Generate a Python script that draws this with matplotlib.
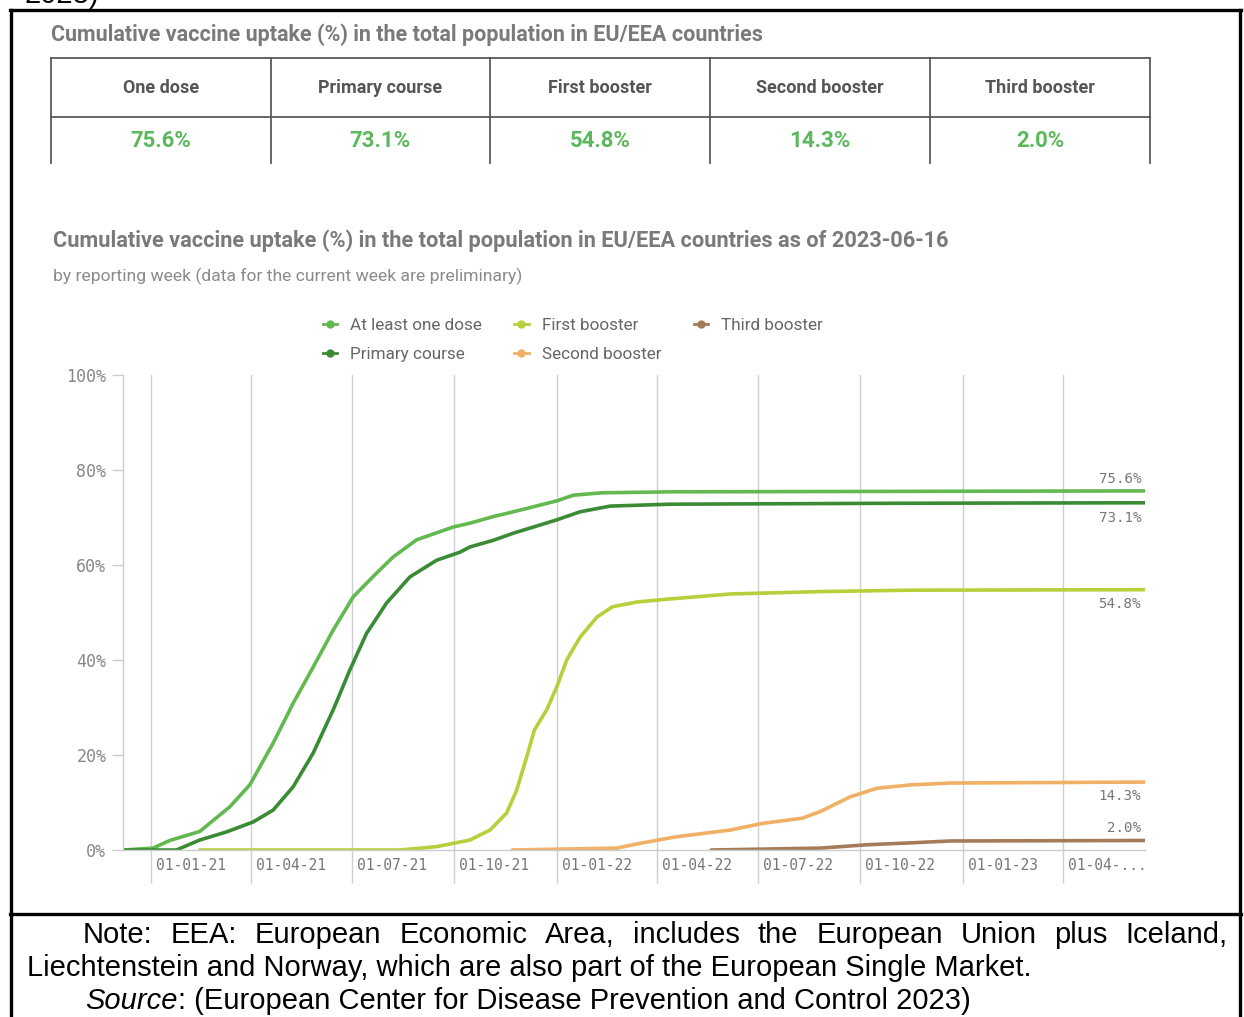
import matplotlib.pyplot as plt
import matplotlib.transforms as mtransforms
from matplotlib.lines import Line2D
import pandas as pd

W, H = 1244, 1017

# --- data ---
table_headers = ["One dose", "Primary course", "First booster", "Second booster", "Third booster"]
table_values = ["75.6%", "73.1%", "54.8%", "14.3%", "2.0%"]

one_dose_dates = ["2020-12-07", "2021-01-03", "2021-01-18", "2021-02-14", "2021-03-13", "2021-03-31",
                  "2021-04-21", "2021-05-09", "2021-05-27", "2021-06-14", "2021-07-02", "2021-07-23",
                  "2021-08-07", "2021-08-28", "2021-09-30", "2021-10-15", "2021-11-05", "2021-11-23",
                  "2021-12-05", "2022-01-01", "2022-01-16", "2022-02-11", "2022-04-13", "2022-11-06",
                  "2023-06-14"]
one_dose_vals = [0, 0.4, 2.0, 3.9, 9.1, 13.7, 22.5, 30.9, 38.5, 46.3, 53.3, 58.3,
                 61.7, 65.3, 68.0, 68.8, 70.2, 71.2, 71.9, 73.5, 74.7, 75.2, 75.4, 75.5,
                 75.6]

primary_dates = ["2020-12-07", "2021-01-24", "2021-02-14", "2021-03-10", "2021-04-03", "2021-04-21",
                 "2021-05-09", "2021-05-27", "2021-06-14", "2021-06-29", "2021-07-14", "2021-08-01",
                 "2021-08-22", "2021-09-15", "2021-10-06", "2021-10-15", "2021-11-05", "2021-11-23",
                 "2022-01-01", "2022-01-22", "2022-02-18", "2022-04-13", "2022-11-06", "2023-06-14"]
primary_vals = [0, 0, 2.1, 3.8, 5.9, 8.4, 13.3, 20.4, 29.5, 37.9, 45.6, 52.0,
                57.5, 61.0, 62.7, 63.8, 65.2, 66.7, 69.5, 71.2, 72.4, 72.8, 73.0, 73.1]

first_dates = ["2021-02-14", "2021-08-13", "2021-09-15", "2021-10-15", "2021-11-02", "2021-11-17",
               "2021-11-26", "2021-12-05", "2021-12-12", "2021-12-23", "2022-01-01", "2022-01-10",
               "2022-01-22", "2022-02-06", "2022-02-20", "2022-03-14", "2022-04-10", "2022-06-06",
               "2022-08-26", "2022-11-15", "2023-06-14"]
first_vals = [0, 0, 0.7, 2.1, 4.2, 7.8, 12.6, 19.6, 25.3, 29.5, 34.3, 40.0,
              44.8, 49.0, 51.2, 52.2, 52.8, 53.9, 54.4, 54.7, 54.8]

second_dates = ["2021-11-22", "2022-02-24", "2022-03-19", "2022-04-19", "2022-06-06", "2022-07-05",
                "2022-08-10", "2022-08-26", "2022-09-22", "2022-10-16", "2022-11-15", "2022-12-21",
                "2023-06-14"]
second_vals = [0, 0.4, 1.5, 2.8, 4.2, 5.6, 6.7, 8.1, 11.2, 13.0, 13.7, 14.1, 14.3]

third_dates = ["2022-05-20", "2022-08-26", "2022-10-07", "2022-11-15", "2022-12-21", "2023-06-14"]
third_vals = [0, 0.4, 1.1, 1.5, 1.9, 2.0]

series_names = ["At least one dose", "Primary course", "First booster", "Second booster", "Third booster"]
series_dates = [one_dose_dates, primary_dates, first_dates, second_dates, third_dates]
series_vals = [one_dose_vals, primary_vals, first_vals, second_vals, third_vals]

tick_dates = ["2021-01-01", "2021-04-01", "2021-07-01", "2021-10-01", "2022-01-01",
              "2022-04-01", "2022-07-01", "2022-10-01", "2023-01-01", "2023-04-01"]
tick_labels = ["01-01-21", "01-04-21", "01-07-21", "01-10-21", "01-01-22",
               "01-04-22", "01-07-22", "01-10-22", "01-01-23", "01-04-..."]
y_ticks = [0, 20, 40, 60, 80, 100]

# --- styles ---
colors = ["#62b94f", "#3b8b34", "#b5d03a", "#f0b065", "#a57b5a"]
end_offsets = [12, -15, -14, -14, 13]  # px above (+) / below (-) the line end
value_green = "#5cb85c"
mono = "DejaVu Sans Mono"
sans = "Roboto"

fig = plt.figure(figsize=(W / 100, H / 100), dpi=100)

# background axes in pixel coordinates for frame, table and notes
bg = fig.add_axes([0, 0, 1, 1], zorder=-1)
bg.set_xlim(0, W)
bg.set_ylim(H, 0)
bg.axis("off")

# outer frame
frame_kw = dict(color="black", lw=2.4, solid_capstyle="projecting")
bg.plot([10, 1241], [9.5, 9.5], **frame_kw)
bg.plot([10, 1241], [914, 914], **frame_kw)
bg.plot([11, 11], [9.5, 1017], **frame_kw)
bg.plot([1240, 1240], [9.5, 1017], **frame_kw)
bg.text(25, 3, "2023)", fontsize=21, family="Liberation Sans", va="baseline")

# summary table
bg.text(51, 35, "Cumulative vaccine uptake (%) in the total population in EU/EEA countries",
        fontsize=15.5, fontweight="bold", color="#7a7a7a", family=sans, va="center")
col_x = [51, 271, 490, 710, 930, 1150]
line_kw = dict(color="#5a5a5a", lw=1.3)
bg.plot([col_x[0], col_x[-1]], [58, 58], **line_kw)
bg.plot([col_x[0], col_x[-1]], [117, 117], **line_kw)
for x in col_x:
    bg.plot([x, x], [58, 163], **line_kw)
for i, (head, val) in enumerate(zip(table_headers, table_values)):
    cx = (col_x[i] + col_x[i + 1]) / 2
    bg.text(cx, 88, head, ha="center", va="center", fontsize=13, fontweight="bold",
            color="#555555", family=sans)
    bg.text(cx, 141, val, ha="center", va="center", fontsize=16, fontweight="bold",
            color=value_green, family=sans)

# chart titles
bg.text(53, 241, "Cumulative vaccine uptake (%) in the total population in EU/EEA countries as of 2023-06-16",
        fontsize=15.7, fontweight="bold", color="#7a7a7a", family=sans, va="center")
bg.text(53, 276, "by reporting week (data for the current week are preliminary)",
        fontsize=12.6, color="#8a8a8a", family=sans, va="center")

# --- line chart ---
ax = fig.add_axes([123 / W, 1 - 850 / H, (1145 - 123) / W, 475 / H])
for name, d, v, c in zip(series_names, series_dates, series_vals, colors):
    ax.plot(pd.to_datetime(d), v, color=c, lw=2.6, solid_capstyle="round",
            solid_joinstyle="round", label=name)

ax.set_xlim(pd.Timestamp(one_dose_dates[0]), pd.Timestamp(one_dose_dates[-1]))
ax.set_ylim(0, 100)

ticks = pd.to_datetime(tick_dates)
ax.set_xticks(ticks)
ax.set_xticklabels([])
ax.grid(axis="x", color="#cfcfcf", lw=1)
ax.tick_params(axis="x", length=24, color="#cfcfcf", width=1)
lab_trans = mtransforms.offset_copy(ax.get_xaxis_transform(), fig=fig, x=5, y=-15, units="dots")
for t, lab in zip(ticks, tick_labels):
    ax.text(t, 0, lab, transform=lab_trans, ha="left", va="center", family=mono,
            fontsize=10.5, color="#777777")

ax.set_yticks(y_ticks)
ax.set_yticklabels([f"{v}%" for v in y_ticks], family=mono, fontsize=12, color="#888888")
ax.tick_params(axis="y", length=8, color="#cccccc", width=1, pad=4)

for s in ["top", "right"]:
    ax.spines[s].set_visible(False)
for s in ["left", "bottom"]:
    ax.spines[s].set_color("#cccccc")
    ax.spines[s].set_linewidth(1)

# end-of-line labels
for d, v, off in zip(series_dates, series_vals, end_offsets):
    tr = mtransforms.offset_copy(ax.transData, fig=fig, x=-4, y=off, units="dots")
    ax.text(pd.Timestamp(d[-1]), v[-1], f"{v[-1]:.1f}%", transform=tr, ha="right", va="center",
            family=mono, fontsize=10.2, color="#777777")

handles = [Line2D([], [], color=c, lw=2, marker="o", markersize=5) for c in colors]
fig.legend(handles, series_names, ncol=3, loc="upper left", bbox_to_anchor=(314 / W, 1 - 309 / H),
           frameon=False, borderpad=0, handlelength=0.85, handletextpad=0.75, columnspacing=1.9,
           labelspacing=0.86, prop={"family": sans, "size": 12.3}, labelcolor="#666666")

# --- note below the frame ---
note_kw = dict(fontsize=21, family="Liberation Sans", va="center", color="black")
fig.canvas.draw()
renderer = fig.canvas.get_renderer()

words = "Note: EEA: European Economic Area, includes the European Union plus Iceland,".split()
texts = [bg.text(0, 935, w, **note_kw) for w in words]
widths = [t.get_window_extent(renderer).width for t in texts]
gap = (1228 - 83 - sum(widths)) / (len(words) - 1)
x = 83
for t, w in zip(texts, widths):
    t.set_x(x)
    x += w + gap

bg.text(27, 968, "Liechtenstein and Norway, which are also part of the European Single Market.", **note_kw)
src = bg.text(85, 1001, "Source", style="italic", **note_kw)
src_w = src.get_window_extent(renderer).width
bg.text(85 + src_w, 1001, ": (European Center for Disease Prevention and Control 2023)", **note_kw)

fig.savefig("out.png", dpi=100)
